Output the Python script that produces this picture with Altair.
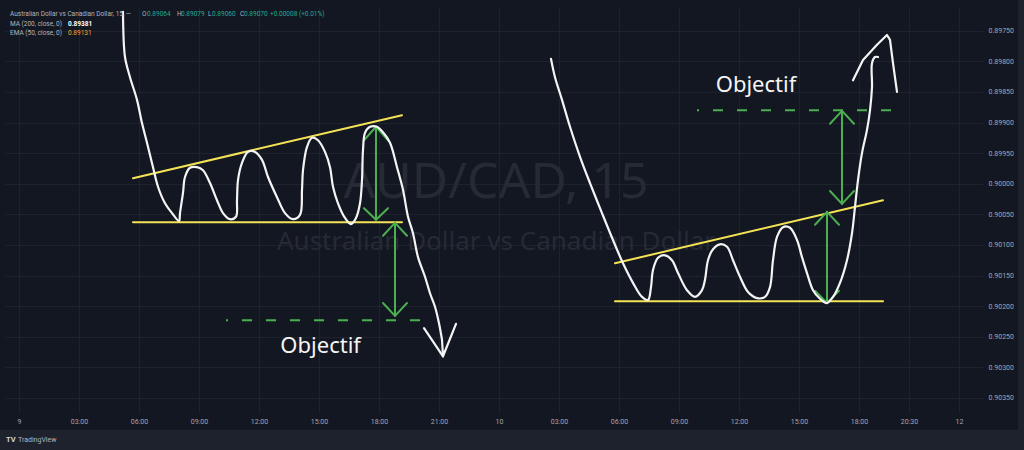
import json
import altair as alt
import pandas as pd

# ---------------- axes ----------------
tick_hours = [0, 3, 6, 9, 12, 15, 18, 21, 24, 27, 30, 33, 36, 39, 42, 44.5, 47]
tick_labels = ["9", "03:00", "06:00", "09:00", "12:00", "15:00", "18:00", "21:00", "10",
               "03:00", "06:00", "09:00", "12:00", "15:00", "18:00", "20:30", "12"]
price_ticks = [0.8975, 0.898, 0.8985, 0.899, 0.8995, 0.9, 0.9005, 0.901, 0.9015,
               0.902, 0.9025, 0.903, 0.9035]

# ---------------- hand drawn white path (hours, price) ----------------
left_curve_h = [5.2, 5.3, 5.55, 5.9, 6.15, 6.4, 6.7, 6.95, 7.3, 7.65, 8.0, 8.05, 8.2, 8.3, 8.55,
                8.9, 9.2, 9.55, 9.9, 10.2, 10.55, 10.85, 10.9, 10.95, 11.15, 11.45, 11.8, 12.15,
                12.45, 12.9, 13.3, 13.7, 14.05, 14.15, 14.2, 14.4, 14.65, 14.95, 15.3, 15.55,
                15.7, 15.95, 16.3, 16.6, 16.85, 17.05, 17.15, 17.2, 17.3, 17.55, 17.9, 18.2,
                18.55, 18.9, 19.2, 19.45, 19.7, 19.95, 20.3, 20.55, 20.8, 21.0, 21.15]
left_curve_p = [0.89719, 0.89793, 0.89826, 0.89863, 0.89901, 0.89933, 0.89973, 0.90005, 0.90032,
                0.90048, 0.90061, 0.90048, 0.90015, 0.89989, 0.89974, 0.89973, 0.89978, 0.89999,
                0.90027, 0.90048, 0.90058, 0.90054, 0.90027, 0.89994, 0.89966, 0.89948, 0.89948,
                0.89961, 0.89989, 0.90022, 0.90048, 0.90058, 0.90051, 0.90010, 0.89978, 0.89940,
                0.89925, 0.89929, 0.89948, 0.89973, 0.90005, 0.90032, 0.90056, 0.90066, 0.90056,
                0.90032, 0.89994, 0.89945, 0.89917, 0.89907, 0.89907, 0.89916, 0.89933, 0.89973,
                0.90010, 0.90054, 0.90081, 0.90120, 0.90152, 0.90179, 0.90201, 0.90228, 0.90255]

right_curve_h = [26.6, 26.8, 27.15, 27.55, 28.05, 28.55, 29.15, 29.7, 30.2, 30.7, 31.15, 31.45,
                 31.6, 31.7, 31.95, 32.3, 32.65, 32.95, 33.4, 33.8, 34.15, 34.3, 34.45, 34.7,
                 35.05, 35.4, 35.7, 36.05, 36.45, 36.9, 37.3, 37.55, 37.7, 37.9, 38.2, 38.55,
                 38.9, 39.15, 39.4, 39.7, 40.05, 40.4, 40.7, 41.05, 41.4, 41.65, 41.8, 41.95,
                 42.15, 42.4, 42.55, 42.65, 42.65, 42.8, 42.95]
right_curve_p = [0.89796, 0.89826, 0.89863, 0.89907, 0.89956, 0.89999, 0.90048, 0.90092, 0.90130,
                 0.90162, 0.90185, 0.90190, 0.90169, 0.90141, 0.90121, 0.90117, 0.90125, 0.90146,
                 0.90174, 0.90185, 0.90174, 0.90157, 0.90125, 0.90107, 0.90099, 0.90103, 0.90125,
                 0.90152, 0.90177, 0.90187, 0.90185, 0.90169, 0.90125, 0.90087, 0.90071, 0.90072,
                 0.90092, 0.90120, 0.90146, 0.90174, 0.90188, 0.90195, 0.90185, 0.90162, 0.90125,
                 0.90081, 0.90038, 0.89994, 0.89950, 0.89912, 0.89880, 0.89842, 0.89803, 0.89793,
                 0.89793]

# straight strokes (arrow tips of the white path)
stroke_id = ["v1", "v1", "v1", "v2", "v2", "c1", "c1", "c1", "c1", "c1", "c1", "c1"]
stroke_h = [21.15, 21.2, 21.85, 20.25, 21.2, 41.7, 42.2, 42.9, 43.4, 43.55, 43.7, 43.9]
stroke_p = [0.90255, 0.90282, 0.90229, 0.90236, 0.90282, 0.89831, 0.89798, 0.89773, 0.89757,
            0.89765, 0.89803, 0.89850]

# ---------------- yellow trend lines ----------------
yellow_id = ["lu", "lu", "ll", "ll", "ru", "ru", "rl", "rl"]
yellow_h = [5.7, 19.15, 5.7, 19.15, 29.8, 43.2, 29.8, 43.2]
yellow_p = [0.89991, 0.89888, 0.90063, 0.90063, 0.90130, 0.90027, 0.90192, 0.90192]

# ---------------- green arrows ----------------
arrow_id = ["a1s", "a1s", "a1t", "a1t", "a1t", "a1b", "a1b", "a1b",
            "a2s", "a2s", "a2t", "a2t", "a2t", "a2b", "a2b", "a2b",
            "a3s", "a3s", "a3t", "a3t", "a3t", "a3b", "a3b", "a3b",
            "a4s", "a4s", "a4t", "a4t", "a4t", "a4b", "a4b", "a4b"]
arrow_h = [17.85, 17.85, 17.25, 17.85, 18.45, 17.25, 17.85, 18.45,
           18.8, 18.8, 18.2, 18.8, 19.4, 18.2, 18.8, 19.4,
           40.4, 40.4, 39.8, 40.4, 41.0, 39.8, 40.4, 41.0,
           41.15, 41.15, 40.55, 41.15, 41.75, 40.55, 41.15, 41.75]
arrow_p = [0.89907, 0.90059, 0.89929, 0.89907, 0.89929, 0.90040, 0.90059, 0.90040,
           0.90064, 0.90216, 0.90085, 0.90064, 0.90085, 0.90195, 0.90216, 0.90195,
           0.90046, 0.90195, 0.90067, 0.90046, 0.90067, 0.90175, 0.90195, 0.90175,
           0.89881, 0.90033, 0.89902, 0.89881, 0.89902, 0.90012, 0.90033, 0.90012]

# dashed target lines
dash_id = ["d1", "d1", "d2", "d2"]
dash_h = [10.35, 20.3, 33.9, 43.9]
dash_p = [0.90223, 0.90223, 0.89880, 0.89880]

# "Objectif" labels
label_text = ["Objectif", "Objectif"]
label_h = [15.08, 36.85]
label_p = [0.90277, 0.89850]

# ---------------- header texts ----------------
header_title = "Australian Dollar vs Canadian Dollar, 15, \u2014"
ohlc_keys = ["O", "H", "L", "C"]
ohlc_vals = ["0.89064", "0.89079", "0.89060", "0.89070"]
change_text = "+0.00008 (+0.01%)"
ma_text, ma_val = "MA (200, close, 0)", "0.89381"
ema_text, ema_val = "EMA (50, close, 0)", "0.89131"

# ---------------- styling ----------------
BG = "#131722"
PANEL2 = "#1e222d"
GRID = "#1e222d"
LABEL = "#a3a6af"
WHITE = "#f4f4f4"
YELLOW = "#f5e356"
GREEN = "#4caf50"
WM = "#252a35"

X0, Y0 = 5, 7          # plot origin in the page
W, H = 978, 405

xscale = alt.Scale(domain=[-0.7, 48.2], nice=False, zero=False)
yscale = alt.Scale(domain=[0.8971127, 0.9037304], nice=False, zero=False, reverse=True)

label_expr = "{}[indexof({}, datum.value)]".format(json.dumps(tick_labels), json.dumps(tick_hours))
xaxis = alt.Axis(values=tick_hours, labelExpr=label_expr, grid=True, gridColor=GRID, gridWidth=1,
                 ticks=False, domain=False, labelColor=LABEL, labelFontSize=7, labelFont="Roboto",
                 labelPadding=5, labelFlush=False, labelOverlap=False, title=None)
yaxis = alt.Axis(orient="right", values=price_ticks, format=".5f", grid=True, gridColor=GRID,
                 gridWidth=1, ticks=False, domain=False, labelColor=LABEL, labelFontSize=7,
                 labelFont="Roboto", labelAlign="left", labelPadding=5, labelFlush=False,
                 labelOverlap=False, title=None)

X = alt.X("h:Q", scale=xscale, axis=xaxis, title=None)
Y = alt.Y("p:Q", scale=yscale, axis=yaxis, title=None)


def seq_df(ids, hs, ps):
    return pd.DataFrame({"s": ids, "h": hs, "p": ps, "i": list(range(len(hs)))})


def lines(df, color, width, interp="linear", dash=None, offset=None):
    kw = dict(color=color, strokeWidth=width, interpolate=interp, strokeCap="round",
              strokeJoin="round")
    if dash is not None:
        kw["strokeDash"] = dash
        kw["strokeCap"] = "butt"
    if offset is not None:
        kw["strokeDashOffset"] = offset
    return alt.Chart(df).mark_line(**kw).encode(x=X, y=Y, detail="s:N", order="i:Q")


dummy = pd.DataFrame({"a": [0]})


def txt(s, x, y, color, size=6.5, weight="normal", font="Roboto", align="left"):
    return alt.Chart(dummy).mark_text(text=s, color=color, fontSize=size, fontWeight=weight,
                                      font=font, align=align, baseline="middle").encode(
        x=alt.value(x - X0), y=alt.value(y - Y0))


def strip(x1, x2, y1, y2):
    return alt.Chart(dummy).mark_rect(color=PANEL2).encode(
        x=alt.value(x1 - X0), x2=alt.value(x2 - X0), y=alt.value(y1 - Y0), y2=alt.value(y2 - Y0))


layers = []
# base layer carries axes
base_df = pd.DataFrame({"h": [tick_hours[0]], "p": [price_ticks[0]]})
layers.append(alt.Chart(base_df).mark_point(opacity=0).encode(x=X, y=Y))

# watermark
layers.append(txt("AUD/CAD, 15", 496, 183, WM, size=50, font="Noto Sans", align="center"))
layers.append(txt("Australian Dollar vs Canadian Dollar", 496, 242, WM, size=26,
                  font="Noto Sans", align="center"))

# drawings
layers.append(lines(seq_df(yellow_id, yellow_h, yellow_p), YELLOW, 2))
layers.append(lines(seq_df(dash_id, dash_h, dash_p), GREEN, 2, dash=[10, 14], offset=8))
layers.append(lines(seq_df(arrow_id, arrow_h, arrow_p), GREEN, 2))
layers.append(lines(seq_df(["L"] * len(left_curve_h), left_curve_h, left_curve_p), WHITE, 2.2,
                    interp="catmull-rom"))
layers.append(lines(seq_df(["R"] * len(right_curve_h), right_curve_h, right_curve_p), WHITE, 2.2,
                    interp="catmull-rom"))
layers.append(lines(seq_df(stroke_id, stroke_h, stroke_p), WHITE, 2.2))

lab_df = pd.DataFrame({"t": label_text, "h": label_h, "p": label_p})
layers.append(alt.Chart(lab_df).mark_text(color=WHITE, fontSize=22, font="Noto Sans",
                                          align="center", baseline="alphabetic").encode(
    x=X, y=Y, text="t:N"))

# header
layers.append(txt(header_title, 10, 14.3, "#b2b5be"))
ohlc_key_x = [142, 177, 208, 240]
ohlc_val_x = [147, 181, 212, 244]
for k, v, kx, vx in zip(ohlc_keys, ohlc_vals, ohlc_key_x, ohlc_val_x):
    layers.append(txt(k, kx, 14.3, "#b2b5be"))
    layers.append(txt(v, vx, 14.3, "#22ab94"))
layers.append(txt(change_text, 270, 14.3, "#22ab94"))
layers.append(txt(ma_text, 10, 24, "#b2b5be"))
layers.append(txt(ma_val, 68, 24, "#ffffff", weight="bold"))
layers.append(txt(ema_text, 10, 33.3, "#b2b5be"))
layers.append(txt(ema_val, 68, 33.3, "#f7a531"))

# outer frame strips and logo
layers.append(strip(0, 1024, 430, 450))
layers.append(strip(1018, 1024, 0, 450))
layers.append(txt("TV", 6, 440, "#d1d4dc", size=7.5, weight="bold"))
layers.append(txt("TradingView", 18, 440, "#b2b5be", size=7))

chart = alt.layer(*layers).properties(
    width=W, height=H, background=BG, autosize="none",
    padding={"left": X0, "top": Y0, "right": 1024 - X0 - W, "bottom": 450 - Y0 - H},
).configure_view(stroke=None)

chart.save("out.html", embed_options={"renderer": "svg", "actions": False})
